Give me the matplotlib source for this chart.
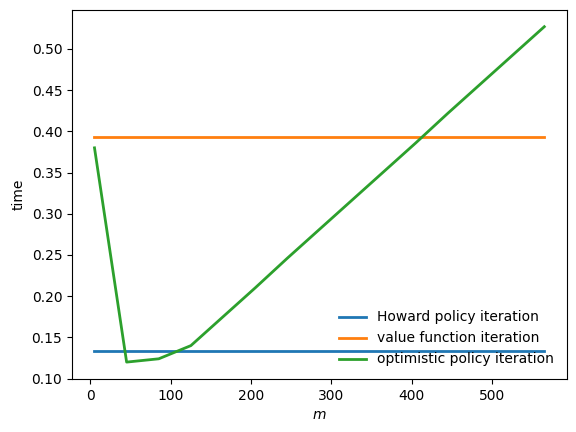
import numpy as np
import matplotlib.pyplot as plt

# grid of m values
m_vals = [5, 45, 85, 125, 165, 205, 245, 285, 325, 365, 405, 445, 485, 525, 565]

# timings
howard_time = [0.133] * len(m_vals)
vfi_time = [0.393] * len(m_vals)
opi_time = [0.380, 0.120, 0.124, 0.140, 0.175, 0.210, 0.246, 0.281,
            0.316, 0.351, 0.386, 0.422, 0.457, 0.492, 0.527]

labels = ['Howard policy iteration', 'value function iteration',
          'optimistic policy iteration']


def main():
    fig, ax = plt.subplots(figsize=(5.76, 4.32), dpi=100)
    fig.subplots_adjust(left=0.125, right=0.984, top=0.977, bottom=0.123)

    ax.plot(m_vals, howard_time, lw=2, label=labels[0])
    ax.plot(m_vals, vfi_time, lw=2, label=labels[1])
    ax.plot(m_vals, opi_time, lw=2, label=labels[2])

    ax.set_xlabel('$m$')
    ax.set_ylabel('time')
    ax.legend(frameon=False, loc='lower right')

    fig.savefig('out.png')


if __name__ == "__main__":
    main()
